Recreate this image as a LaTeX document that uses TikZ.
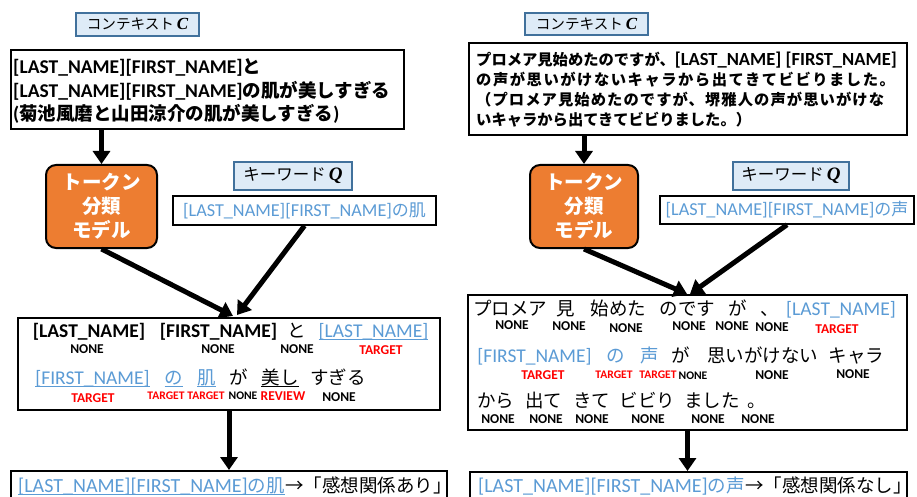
\documentclass[tikz,border=0pt]{standalone}
\usepackage{fontspec}
\setmainfont{Carlito}
\newfontfamily\jpf{Noto Sans CJK JP}
\newfontfamily\mathvar{Liberation Serif}
\usetikzlibrary{arrows.meta}
\definecolor{kwblue}{HTML}{5B9BD5}
\definecolor{lblfill}{HTML}{DEEBF7}
\definecolor{lbldraw}{HTML}{41719C}
\definecolor{mdlorange}{HTML}{ED7D31}
\definecolor{tgtred}{HTML}{FF0000}
\def\cjksz{18}
\newcommand\FS[3]{\def\cjksz{#2}\fontsize{#1}{#3}\selectfont}
\newcommand\JP[1]{{\jpf\fontsize{\cjksz}{\cjksz}\selectfont #1}}
\newcommand\JLS[2]{{\jpf\fontsize{\cjksz}{\cjksz}\selectfont\addfontfeatures{LetterSpace=#1}#2}}
\newcommand\VAR[1]{{\mathvar\bfseries\itshape #1}}
\tikzset{
 lblbox/.style={draw=lbldraw, fill=lblfill, line width=1.5pt, inner sep=0pt},
 ctxbox/.style={draw=black, line width=2pt, fill=white, inner sep=0pt},
 ctxtxt/.style={inner sep=0pt, align=left, anchor=west},
 mdlbox/.style={draw=black, line width=2pt, fill=mdlorange, rounded corners=10pt, text=white, align=center, inner sep=0pt, font=\bfseries\FS{20}{19.5}{24}},
 kwbox/.style={draw=black, line width=1.5pt, fill=white, inner sep=0pt, text=kwblue, font=\FS{18.2}{17}{20}},
 tokbox/.style={draw=black, line width=2pt, fill=white, inner sep=0pt},
 arr/.style={line width=5pt, -{Triangle[length=13pt,width=17pt]}},
 tk/.style={inner sep=0pt, anchor=base, font=\FS{19.5}{18.5}{22}},
 tkb/.style={inner sep=0pt, anchor=base, font=\bfseries\FS{19.5}{18.5}{22}},
 tkbl/.style={tk, text=kwblue},
 lab/.style={inner sep=0pt, anchor=base, font=\bfseries\FS{13.5}{13}{14}},
 labs/.style={inner sep=0pt, anchor=base, font=\bfseries\FS{11.6}{11}{12}},
 tgt/.style={text=tgtred},
 ulb/.style={draw=kwblue, line width=1.3pt},
 ulk/.style={draw=black, line width=1.3pt},
 bot/.style={inner sep=0pt, anchor=base west, font=\FS{20}{18.5}{22}},
}
\begin{document}
\begin{tikzpicture}[x=1pt,y=-1pt]
\useasboundingbox (0,0) rectangle (917,497);
\clip (0,0) rectangle (917,497);
\fill[white] (0,0) rectangle (917,497);

% ---------------- LEFT ----------------
\node[lblbox, minimum width=123, minimum height=23, font=\FS{17}{14.6}{17}] (lblCL) at (137.5,24.5) {\JP{コンテキスト}\,\VAR{C}};
\node[ctxbox, minimum width=393, minimum height=79] (ctxL) at (207.5,89.5) {};
\node[ctxtxt, font=\bfseries\FS{19.5}{18.5}{23.5}] (ctxLt) at ([xshift=3pt,yshift=-2pt]ctxL.west)
 {[LAST\_NAME][FIRST\_NAME]\JP{と}\\{}[LAST\_NAME][FIRST\_NAME]\JP{の肌が美しすぎる}\\(\JP{菊池風磨と山田涼介の肌が美しすぎる})};
\node[mdlbox, minimum width=111, minimum height=83] (mdlL) at (101.5,206.5) {\JP{トークン}\\\JP{分類}\\\JP{モデル}};
\node[lblbox, minimum width=118, minimum height=28, font=\FS{19}{16.5}{19}] (lblQL) at (293,176) {\JP{キーワード}\,\VAR{Q}};
\node[kwbox, minimum width=263, minimum height=29] (kwL) at (304.5,210.5) {[LAST\_NAME][FIRST\_NAME]\JP{の肌}};
\node[tokbox, minimum width=422, minimum height=92] (tokL) at (229,364) {};

\node[tkb] (a1) at (89,337) {[LAST\_NAME]};
\node[tkb] (a2) at (218.5,337) {[FIRST\_NAME]};
\node[tk] (a3) at (297,337) {\JP{と}};
\node[tkbl] (a4) at (373.5,337) {[LAST\_NAME]};
\node[lab] (la1) at (87,353) {NONE};
\node[lab] (la2) at (218,353) {NONE};
\node[lab] (la3) at (297,353) {NONE};
\node[lab,tgt] (la4) at (381,354) {TARGET};
\node[tkbl] (b1) at (92.5,384) {[FIRST\_NAME]};
\node[tkbl] (b2) at (174,384) {\JP{の}};
\node[tkbl] (b3) at (206.5,384) {\JP{肌}};
\node[tk] (b4) at (239,384) {\JP{が}};
\node[tk] (b5) at (280,384) {\JP{美し}};
\node[tk] (b6) at (338,384) {\JP{すぎる}};
\node[lab,tgt] (lb1) at (93,402) {TARGET};
\node[labs,tgt] (lb2) at (166,399) {TARGET};
\node[labs,tgt] (lb3) at (206,399) {TARGET};
\node[labs] (lb4) at (243,399) {NONE};
\node[lab,tgt] (lb5) at (283,400) {REVIEW};
\node[lab] (lb6) at (339,401) {NONE};
\foreach \n in {a4,b1,b2,b3}
  \draw[ulb] ([yshift=-2.5pt]\n.base west) -- ([yshift=-2.5pt]\n.base east);
\draw[ulk] ([yshift=-2.5pt]b5.base west) -- ([yshift=-2.5pt]b5.base east);

\node[ctxbox, minimum width=436, minimum height=56] (botL) at (229,499) {};
\node[bot, text=kwblue] (botLa) at (18,492) {[LAST\_NAME][FIRST\_NAME]\JP{の肌}};
\node[bot] (botLb) at (botLa.base east) {\JP{→「感想関係あり」}};
\draw[ulb] ([yshift=-2.5pt]botLa.base west) -- ([yshift=-2.5pt]botLa.base east);

% ---------------- RIGHT ----------------
\node[lblbox, minimum width=123, minimum height=22, font=\FS{17}{14.6}{17}] (lblCR) at (586.5,24) {\JP{コンテキスト}\,\VAR{C}};
\node[ctxbox, minimum width=438, minimum height=92] (ctxR) at (688,89) {};
\node[ctxtxt, font=\bfseries\FS{18.5}{15.3}{20}] (ctxRt) at ([xshift=8pt,yshift=-1pt]ctxR.west)
 {\JP{プロメア見始めたのですが、}[LAST\_NAME]~[FIRST\_NAME]\\
  \JLS{10}{の声が思いがけないキャラから出てきてビビりました。}\\
  \JLS{7}{（プロメア見始めたのですが、堺雅人の声が思いがけな}\\
  \JP{いキャラから出てきてビビりました。）}};
\node[mdlbox, minimum width=108, minimum height=83] (mdlR) at (584,206.5) {\JP{トークン}\\\JP{分類}\\\JP{モデル}};
\node[lblbox, minimum width=116, minimum height=28, font=\FS{19}{16.5}{19}] (lblQR) at (791,176) {\JP{キーワード}\,\VAR{Q}};
\node[kwbox, minimum width=254, minimum height=28] (kwR) at (787,210) {[LAST\_NAME][FIRST\_NAME]\JP{の声}};
\node[tokbox, minimum width=439, minimum height=135] (tokR) at (687.5,362.5) {};

\node[tk] (c1) at (510,315) {\JP{プロメア}};
\node[tk] (c2) at (566,315) {\JP{見}};
\node[tk] (c3) at (618.5,315) {\JP{始めた}};
\node[tk] (c4) at (687.5,315) {\JP{のです}};
\node[tk] (c5) at (737.5,315) {\JP{が}};
\node[tk] (c6) at (770,315) {\JP{、}};
\node[tkbl] (c7) at (841,315) {[LAST\_NAME]};
\node[lab] (lc1) at (512,329) {NONE};
\node[lab] (lc2) at (569,330) {NONE};
\node[lab] (lc3) at (626,332) {NONE};
\node[lab] (lc4) at (689,330) {NONE};
\node[lab] (lc5) at (732,330) {NONE};
\node[lab] (lc6) at (772,331) {NONE};
\node[lab,tgt] (lc7) at (837,333) {TARGET};

\node[tkbl] (d1) at (534.5,362) {[FIRST\_NAME]};
\node[tkbl] (d2) at (616,362) {\JP{の}};
\node[tkbl] (d3) at (650,362) {\JP{声}};
\node[tk] (d4) at (681,362) {\JP{が}};
\node[tk] (d5) at (762.5,362) {\JP{思いがけない}};
\node[tk] (d6) at (856.5,362) {\JP{キャラ}};
\node[lab,tgt] (ld1) at (543,379) {TARGET};
\node[labs,tgt] (ld2) at (614,378) {TARGET};
\node[labs,tgt] (ld3) at (658,378) {TARGET};
\node[labs] (ld4) at (693,379) {NONE};
\node[lab] (ld5) at (772,379) {NONE};
\node[lab] (ld6) at (853,378) {NONE};

\node[tk] (e1) at (495.5,407) {\JP{から}};
\node[tk] (e2) at (543.5,407) {\JP{出て}};
\node[tk] (e3) at (591.5,407) {\JP{きて}};
\node[tk] (e4) at (647.5,407) {\JP{ビビり}};
\node[tk] (e5) at (712,407) {\JP{ました}};
\node[tk] (e6) at (757,407) {\JP{。}};
\node[lab] (le1) at (498,423) {NONE};
\node[lab] (le2) at (546,423) {NONE};
\node[lab] (le3) at (592,423) {NONE};
\node[lab] (le4) at (648,423) {NONE};
\node[lab] (le5) at (708,423) {NONE};
\node[lab] (le6) at (758,423) {NONE};

\node[ctxbox, minimum width=437, minimum height=56] (botR) at (688.5,500) {};
\node[bot, text=kwblue] (botRa) at (478,492) {[LAST\_NAME][FIRST\_NAME]\JP{の声}};
\node[bot] (botRb) at (botRa.base east) {\JP{→「感想関係なし」}};

% ---------------- ARROWS ----------------
\coordinate (mL1) at (233,316);
\coordinate (mL2) at (237,315);
\coordinate (mR1) at (687,294);
\coordinate (mR2) at (690,294);
\draw[arr] (ctxL.south -| mdlL.north) -- (mdlL.north);
\draw[arr] (mdlL.south) -- (mL1);
\draw[arr] (kwL.south) -- (mL2);
\draw[arr] (tokL.south) -- (tokL.south |- botL.north);
\draw[arr] (ctxR.south -| mdlR.north) -- (mdlR.north);
\draw[arr] (mdlR.south) -- (mR1);
\draw[arr] (kwR.south) -- (mR2);
\draw[arr] (tokR.south) -- (tokR.south |- botR.north);
\end{tikzpicture}
\end{document}
